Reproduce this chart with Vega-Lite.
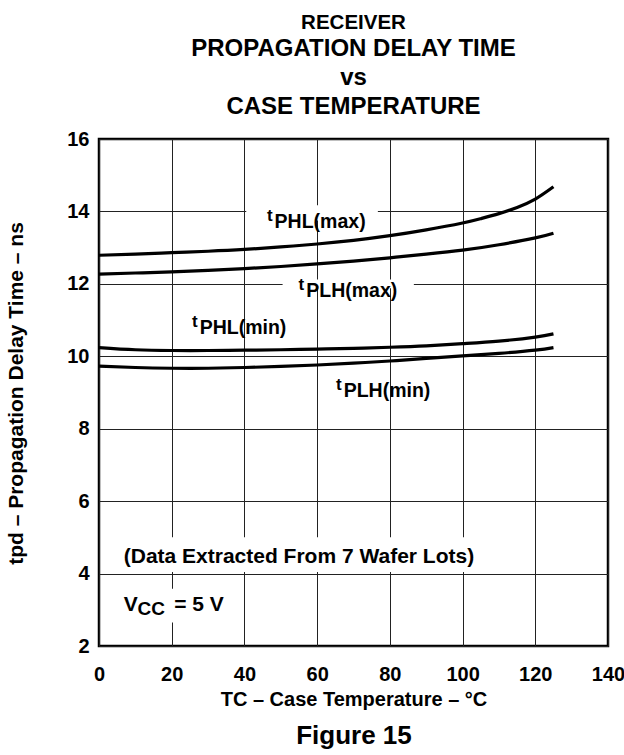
{
  "$schema": "https://vega.github.io/schema/vega-lite/v6.json",
  "width": 509,
  "height": 507,
  "autosize": {"type": "none"},
  "padding": {"left": 99, "top": 139, "right": 16, "bottom": 109},
  "background": "white",
  "config": {
    "font": "Liberation Sans",
    "view": {"stroke": "#000", "strokeWidth": 2.5},
    "axis": {
      "labelFont": "Liberation Sans",
      "titleFont": "Liberation Sans",
      "labelColor": "#000",
      "titleColor": "#000",
      "labelFontWeight": "bold",
      "titleFontWeight": "bold",
      "labelFontSize": 20,
      "titleFontSize": 20,
      "gridColor": "#222",
      "gridOpacity": 1,
      "gridWidth": 1,
      "domain": false,
      "ticks": false
    }
  },
  "title": {
    "text": "RECEIVER",
    "subtitle": ["PROPAGATION DELAY TIME", "vs", "CASE TEMPERATURE"],
    "font": "Liberation Sans",
    "fontSize": 20.5,
    "fontWeight": 700,
    "color": "#000",
    "subtitleFont": "Liberation Sans",
    "subtitleFontSize": 24,
    "subtitleFontWeight": 700,
    "subtitleColor": "#000",
    "subtitleLineHeight": 29,
    "subtitlePadding": 4,
    "anchor": "middle",
    "frame": "group",
    "offset": 10
  },
  "datasets": {
    "curves": [
      {"curve": "PHL(max)", "T": 0, "v": 12.79},
      {"curve": "PHL(max)", "T": 10, "v": 12.82},
      {"curve": "PHL(max)", "T": 20, "v": 12.86},
      {"curve": "PHL(max)", "T": 30, "v": 12.9},
      {"curve": "PHL(max)", "T": 40, "v": 12.95},
      {"curve": "PHL(max)", "T": 50, "v": 13.02},
      {"curve": "PHL(max)", "T": 60, "v": 13.1},
      {"curve": "PHL(max)", "T": 70, "v": 13.2},
      {"curve": "PHL(max)", "T": 80, "v": 13.33},
      {"curve": "PHL(max)", "T": 90, "v": 13.49},
      {"curve": "PHL(max)", "T": 100, "v": 13.68},
      {"curve": "PHL(max)", "T": 105, "v": 13.8},
      {"curve": "PHL(max)", "T": 110, "v": 13.94},
      {"curve": "PHL(max)", "T": 115, "v": 14.11},
      {"curve": "PHL(max)", "T": 120, "v": 14.34},
      {"curve": "PHL(max)", "T": 125, "v": 14.68},
      {"curve": "PLH(max)", "T": 0, "v": 12.27},
      {"curve": "PLH(max)", "T": 10, "v": 12.3},
      {"curve": "PLH(max)", "T": 20, "v": 12.33},
      {"curve": "PLH(max)", "T": 30, "v": 12.37},
      {"curve": "PLH(max)", "T": 40, "v": 12.42},
      {"curve": "PLH(max)", "T": 50, "v": 12.48},
      {"curve": "PLH(max)", "T": 60, "v": 12.55},
      {"curve": "PLH(max)", "T": 70, "v": 12.63},
      {"curve": "PLH(max)", "T": 80, "v": 12.72},
      {"curve": "PLH(max)", "T": 90, "v": 12.82},
      {"curve": "PLH(max)", "T": 100, "v": 12.93},
      {"curve": "PLH(max)", "T": 110, "v": 13.08},
      {"curve": "PLH(max)", "T": 120, "v": 13.27},
      {"curve": "PLH(max)", "T": 125, "v": 13.4},
      {"curve": "PHL(min)", "T": 0, "v": 10.24},
      {"curve": "PHL(min)", "T": 10, "v": 10.18},
      {"curve": "PHL(min)", "T": 20, "v": 10.16},
      {"curve": "PHL(min)", "T": 30, "v": 10.16},
      {"curve": "PHL(min)", "T": 40, "v": 10.17},
      {"curve": "PHL(min)", "T": 50, "v": 10.18},
      {"curve": "PHL(min)", "T": 60, "v": 10.2},
      {"curve": "PHL(min)", "T": 70, "v": 10.22},
      {"curve": "PHL(min)", "T": 80, "v": 10.25},
      {"curve": "PHL(min)", "T": 90, "v": 10.29},
      {"curve": "PHL(min)", "T": 100, "v": 10.35},
      {"curve": "PHL(min)", "T": 110, "v": 10.42},
      {"curve": "PHL(min)", "T": 120, "v": 10.53},
      {"curve": "PHL(min)", "T": 125, "v": 10.62},
      {"curve": "PLH(min)", "T": 0, "v": 9.73},
      {"curve": "PLH(min)", "T": 10, "v": 9.69},
      {"curve": "PLH(min)", "T": 20, "v": 9.67},
      {"curve": "PLH(min)", "T": 30, "v": 9.67},
      {"curve": "PLH(min)", "T": 40, "v": 9.69},
      {"curve": "PLH(min)", "T": 50, "v": 9.72},
      {"curve": "PLH(min)", "T": 60, "v": 9.76},
      {"curve": "PLH(min)", "T": 70, "v": 9.81},
      {"curve": "PLH(min)", "T": 80, "v": 9.87},
      {"curve": "PLH(min)", "T": 90, "v": 9.94},
      {"curve": "PLH(min)", "T": 100, "v": 10.01},
      {"curve": "PLH(min)", "T": 110, "v": 10.08},
      {"curve": "PLH(min)", "T": 120, "v": 10.17},
      {"curve": "PLH(min)", "T": 125, "v": 10.24}
    ],
    "boxes": [
      {"T1": 40.5, "T2": 76.7, "v1": 13.75, "v2": 14.17},
      {"T1": 50.5, "T2": 86.6, "v1": 11.88, "v2": 12.12},
      {"T1": 5, "T2": 106, "v1": 4.04, "v2": 5.0},
      {"T1": 5, "T2": 30, "v1": 2.65, "v2": 3.58}
    ],
    "labels": [
      {"sub": "PHL(max)", "T": 48.3, "v": 13.55},
      {"sub": "PLH(max)", "T": 57.0, "v": 11.65},
      {"sub": "PHL(min)", "T": 27.7, "v": 10.61},
      {"sub": "PLH(min)", "T": 67.3, "v": 8.88}
    ],
    "notes": [
      {"note": "(Data Extracted From 7 Wafer Lots)", "T": 6.8, "v": 4.29},
      {"note": "V", "T": 6.8, "v": 2.975},
      {"note": "= 5 V", "T": 20.7, "v": 2.975}
    ],
    "subnotes": [
      {"note": "CC", "T": 10.6, "v": 2.856}
    ]
  },
  "resolve": {"axis": {"x": "independent"}},
  "layer": [
    {
      "data": {"name": "boxes"},
      "mark": {"type": "rect", "fill": "white", "stroke": null},
      "encoding": {
        "x": {
          "field": "T1", "type": "quantitative",
          "scale": {"domain": [0, 140], "nice": false, "zero": false},
          "axis": {
            "values": [0, 20, 40, 60, 80, 100, 120, 140],
            "grid": true,
            "labelFlush": false,
            "labelPadding": 18,
            "title": "TC – Case Temperature – °C",
            "titleY": 59,
            "titleBaseline": "alphabetic"
          }
        },
        "x2": {"field": "T2"},
        "y": {
          "field": "v1", "type": "quantitative",
          "scale": {"domain": [2, 16], "nice": false, "zero": false},
          "axis": {
            "values": [2, 4, 6, 8, 10, 12, 14, 16],
            "grid": true,
            "labelPadding": 10,
            "title": "tpd – Propagation Delay Time – ns",
            "titleFontSize": 21,
            "titleAngle": 270,
            "titleX": -77,
            "titleY": 254,
            "titleAlign": "center",
            "titleBaseline": "alphabetic"
          }
        },
        "y2": {"field": "v2"}
      }
    },
    {
      "data": {"name": "curves"},
      "mark": {"type": "line", "color": "#000", "strokeWidth": 3.2, "interpolate": "natural"},
      "encoding": {
        "x": {
          "field": "T", "type": "quantitative",
          "axis": {
            "orient": "bottom",
            "labels": false,
            "grid": false,
            "domain": false,
            "ticks": false,
            "title": "Figure 15",
            "titleFontSize": 26,
            "titleY": 97,
            "titleBaseline": "alphabetic"
          }
        },
        "y": {"field": "v", "type": "quantitative"},
        "detail": {"field": "curve"}
      }
    },
    {
      "data": {"name": "labels"},
      "mark": {"type": "text", "font": "Liberation Sans", "fontWeight": "bold", "fontSize": 17, "align": "right", "baseline": "alphabetic", "dx": -2, "dy": -7, "color": "#000"},
      "encoding": {
        "x": {"field": "T", "type": "quantitative", "axis": null},
        "y": {"field": "v", "type": "quantitative"},
        "text": {"value": "t"}
      }
    },
    {
      "data": {"name": "labels"},
      "mark": {"type": "text", "font": "Liberation Sans", "fontWeight": "bold", "fontSize": 19.5, "align": "left", "baseline": "alphabetic", "color": "#000"},
      "encoding": {
        "x": {"field": "T", "type": "quantitative", "axis": null},
        "y": {"field": "v", "type": "quantitative"},
        "text": {"field": "sub"}
      }
    },
    {
      "data": {"name": "notes"},
      "mark": {"type": "text", "font": "Liberation Sans", "fontWeight": "bold", "fontSize": 21, "align": "left", "baseline": "alphabetic", "color": "#000"},
      "encoding": {
        "x": {"field": "T", "type": "quantitative", "axis": null},
        "y": {"field": "v", "type": "quantitative"},
        "text": {"field": "note"}
      }
    },
    {
      "data": {"name": "subnotes"},
      "mark": {"type": "text", "font": "Liberation Sans", "fontWeight": "bold", "fontSize": 19, "align": "left", "baseline": "alphabetic", "color": "#000"},
      "encoding": {
        "x": {"field": "T", "type": "quantitative", "axis": null},
        "y": {"field": "v", "type": "quantitative"},
        "text": {"field": "note"}
      }
    }
  ]
}
